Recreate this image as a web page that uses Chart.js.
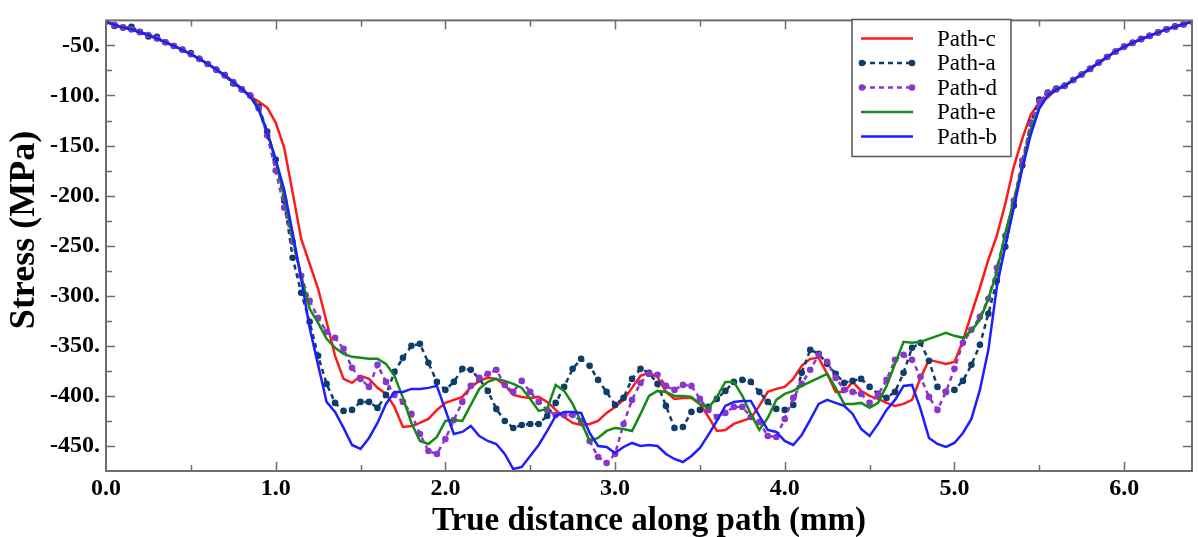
<!DOCTYPE html>
<html>
<head>
<meta charset="utf-8">
<script src="https://cdn.jsdelivr.net/npm/chart.js@4.4.1/dist/chart.umd.min.js"></script>
<style>
  html, body { margin: 0; padding: 0; background: #ffffff; }
  #wrap { width: 1198px; height: 537px; }
</style>
</head>
<body>
<div id="wrap"><canvas id="stressChart" width="1198" height="537"></canvas></div>
<script>
// Distance along the path (mm)
const distance = [
  0, 0.05, 0.1, 0.15, 0.2, 0.25, 0.3, 0.35, 0.4, 0.45,
  0.5, 0.55, 0.6, 0.65, 0.7, 0.75, 0.8, 0.85, 0.9, 0.95,
  1, 1.05, 1.1, 1.15, 1.2, 1.25, 1.3, 1.35, 1.4, 1.45,
  1.5, 1.55, 1.6, 1.65, 1.7, 1.75, 1.8, 1.85, 1.9, 1.95,
  2, 2.05, 2.1, 2.15, 2.2, 2.25, 2.3, 2.35, 2.4, 2.45,
  2.5, 2.55, 2.6, 2.65, 2.7, 2.75, 2.8, 2.85, 2.9, 2.95,
  3, 3.05, 3.1, 3.15, 3.2, 3.25, 3.3, 3.35, 3.4, 3.45,
  3.5, 3.55, 3.6, 3.65, 3.7, 3.75, 3.8, 3.85, 3.9, 3.95,
  4, 4.05, 4.1, 4.15, 4.2, 4.25, 4.3, 4.35, 4.4, 4.45,
  4.5, 4.55, 4.6, 4.65, 4.7, 4.75, 4.8, 4.85, 4.9, 4.95,
  5, 5.05, 5.1, 5.15, 5.2, 5.25, 5.3, 5.35, 5.4, 5.45,
  5.5, 5.55, 5.6, 5.65, 5.7, 5.75, 5.8, 5.85, 5.9, 5.95,
  6, 6.05, 6.1, 6.15, 6.2, 6.25, 6.3, 6.35, 6.4
];

// Stress along each path (MPa)
const pathC = [
  -26, -29.5, -32, -34, -36.8, -39.6, -43.2, -46.8, -50.5, -54.4,
  -58.8, -63.4, -68.6, -74, -80, -86.5, -93.5, -101, -106, -112,
  -127, -152, -197, -243, -268, -293, -326, -360, -383, -387,
  -380, -383, -392, -398, -411, -431, -430, -427, -423, -414,
  -407, -404, -401, -391, -385, -382, -383, -389, -399, -401,
  -402, -401, -406, -414, -421, -427, -429, -428, -425, -417,
  -411, -404, -392, -380, -377, -381, -396, -403, -402, -402,
  -408, -421, -435, -434, -428, -425, -422, -410, -396, -393,
  -391, -383, -370, -363, -362, -378, -396, -396, -386, -395,
  -400, -403, -407, -410, -408, -404, -382, -364, -366, -368,
  -366, -345, -318, -292, -264, -240, -208, -171, -143, -119,
  -107, -102, -94, -90.5, -84.5, -79, -73, -67.4, -61.5, -56,
  -51.4, -47.2, -43.8, -40.5, -37.2, -33.8, -31.3, -28.9, -26
];

const pathA = [
  -26, -30.5, -32.2, -31.5, -36.5, -41, -41.5, -46.8, -50.5, -54,
  -57.5, -63.4, -68.5, -74.4, -79.5, -88, -94, -100, -111, -136,
  -164, -205, -262, -297, -326, -360, -388, -407, -415, -414,
  -406, -406, -412, -399, -376, -362, -350, -348, -367, -386,
  -394, -386, -373, -374, -383, -395, -413, -425, -432, -429,
  -428, -428, -420, -407, -391, -373, -363, -370, -384, -396,
  -409, -402, -383, -373, -377, -388, -410, -432, -431, -416,
  -414, -411, -403, -395, -386, -384, -386, -396, -406, -413,
  -414, -409, -377, -354, -358, -368, -378, -387, -385, -383,
  -391, -398, -402, -396, -377, -352, -347, -365, -391, -396,
  -394, -385, -369, -349, -318, -285, -251, -210, -170, -127,
  -104, -97, -93, -90, -84.5, -79, -73.5, -67, -61.5, -56,
  -51, -47.5, -43.5, -40.5, -37, -34, -31, -29, -26
];

const pathD = [
  -26, -29.5, -32, -34, -36.8, -39.6, -43.2, -46.8, -50.5, -54.4,
  -58.8, -63.4, -68.6, -74, -80, -86.5, -93.5, -100, -113, -140,
  -175, -212, -246, -280, -305, -322, -336, -342, -353, -372,
  -383, -391, -369, -386, -399, -406, -418, -438, -455, -458,
  -443, -424, -406, -390, -382, -378, -374, -389, -396, -385,
  -396, -406, -414, -419, -419, -419, -425, -445, -461, -467,
  -458, -428, -404, -387, -378, -379, -390, -394, -389, -390,
  -403, -414, -421, -417, -411, -411, -421, -426, -440, -441,
  -423, -402, -388, -374, -359, -366, -382, -394, -396, -398,
  -407, -399, -384, -364, -359, -364, -381, -401, -414, -396,
  -373, -347, -334, -321, -303, -272, -240, -205, -165, -128,
  -106, -98, -94, -90.5, -84.5, -79, -73, -67.4, -61.5, -56,
  -51.4, -47.2, -43.8, -40.5, -37.2, -33.8, -31.3, -28.9, -26
];

const pathE = [
  -26, -29.5, -32, -34, -36.8, -39.6, -43.2, -46.8, -50.5, -54.4,
  -58.8, -63.4, -68.6, -74, -80, -86.5, -93.5, -101, -113, -136,
  -165, -200, -243, -280, -313, -327, -343, -352, -358, -361,
  -362, -363, -363, -368, -380, -402, -427, -445, -448, -441,
  -425, -424, -425, -409, -393, -386, -383, -385, -388, -392,
  -403, -415, -413, -389, -395, -408, -426, -445, -442, -435,
  -432, -433, -435, -418, -400, -395, -396, -400, -400, -401,
  -408, -412, -401, -386, -386, -400, -418, -434, -422, -404,
  -398, -395, -390, -386, -382, -378, -392, -408, -408, -407,
  -412, -407, -390, -368, -346, -347, -346, -343, -340, -337,
  -340, -342, -335, -324, -303, -276, -237, -205, -170, -134,
  -112, -100, -94, -90.5, -84.5, -79, -73, -67.4, -61.5, -56,
  -51.4, -47.2, -43.8, -40.5, -37.2, -33.8, -31.3, -28.9, -26
];

const pathB = [
  -26, -29.5, -32, -34, -36.8, -39.6, -43.2, -46.8, -50.5, -54.4,
  -58.8, -63.4, -68.6, -74, -80, -86.5, -93.5, -101, -114, -137,
  -164, -194, -237, -283, -332, -369, -406, -416, -432, -449,
  -453, -442, -427, -408, -396, -396, -393, -393, -392, -390,
  -414, -438, -436, -430, -440, -445, -448, -458, -473, -471,
  -460, -449, -435, -420, -416, -416, -417, -437, -450, -451,
  -457, -451, -447, -450, -449, -450, -458, -463, -466, -460,
  -452, -439, -425, -410, -406, -405, -405, -420, -434, -436,
  -445, -449, -439, -424, -408, -404, -407, -410, -418, -433,
  -440, -428, -414, -404, -390, -389, -413, -442, -448, -451,
  -447, -437, -423, -394, -354, -291, -250, -212, -173, -139,
  -113, -100, -94, -90.5, -84.5, -79, -73, -67.4, -61.5, -56,
  -51.4, -47.2, -43.8, -40.5, -37.2, -33.8, -31.3, -28.9, -26
];

const seriesNames = ['Path-c', 'Path-a', 'Path-d', 'Path-e', 'Path-b'];
const seriesValues = [pathC, pathA, pathD, pathE, pathB];
const seriesColors = ['#ff1a1a', '#0e3d6b', '#8b35cf', '#168a16', '#1e1eff'];
const seriesDotted = [false, true, true, false, false];

const xTitle = 'True distance along path (mm)';
const yTitle = 'Stress (MPa)';

const SERIF = "'Liberation Serif', 'Times New Roman', serif";
const AXIS_COLOR = '#6e6e6e';

function isWhole(v) { return Math.abs(v - Math.round(v)) < 1e-6; }

// Frame around the plot with inward tick marks on all four sides
const framePlugin = {
  id: 'frameTicks',
  afterDatasetsDraw(chart) {
    const { ctx, chartArea: a, scales: { x, y } } = chart;
    ctx.save();
    ctx.strokeStyle = AXIS_COLOR;
    ctx.lineWidth = 1.5;
    ctx.beginPath();
    x.ticks.forEach(t => {
      const px = Math.round(x.getPixelForValue(t.value)) + 0.5;
      if (px <= a.left + 2 || px >= a.right - 2) return;
      const len = isWhole(t.value) ? 9 : 6;
      ctx.moveTo(px, a.bottom); ctx.lineTo(px, a.bottom - len);
      ctx.moveTo(px, a.top); ctx.lineTo(px, a.top + len);
    });
    y.ticks.forEach(t => {
      const py = Math.round(y.getPixelForValue(t.value)) + 0.5;
      if (py <= a.top + 2 || py >= a.bottom - 2) return;
      const len = (t.value % 50 === 0) ? 9 : 6;
      ctx.moveTo(a.left, py); ctx.lineTo(a.left + len, py);
      ctx.moveTo(a.right, py); ctx.lineTo(a.right - len, py);
    });
    ctx.stroke();
    ctx.lineWidth = 2;
    ctx.strokeRect(a.left, a.top, a.right - a.left, a.bottom - a.top);
    ctx.restore();
  }
};

// Vertical axis title, written bottom-to-top beside the value labels
const yTitlePlugin = {
  id: 'yTitle',
  afterDraw(chart) {
    const { ctx } = chart;
    ctx.save();
    ctx.translate(25, 230);
    ctx.rotate(-Math.PI / 2);
    ctx.fillStyle = '#000000';
    ctx.font = 'bold 36px ' + SERIF;
    ctx.textAlign = 'center';
    ctx.textBaseline = 'middle';
    ctx.fillText(yTitle, 0, 0);
    ctx.restore();
  }
};

// Boxed legend inside the upper right of the plot
const legendBoxPlugin = {
  id: 'legendBox',
  afterDraw(chart) {
    const { ctx } = chart;
    const box = { x: 852, y: 19.5, w: 159, h: 137 };
    ctx.save();
    ctx.fillStyle = '#ffffff';
    ctx.fillRect(box.x, box.y, box.w, box.h);
    ctx.strokeStyle = '#555555';
    ctx.lineWidth = 1.5;
    ctx.strokeRect(box.x, box.y, box.w, box.h);
    chart.data.datasets.forEach((ds, i) => {
      const cy = 38.5 + i * 24.5;
      ctx.strokeStyle = ds.borderColor;
      ctx.lineWidth = 2.5;
      ctx.setLineDash(ds.borderDash || []);
      ctx.beginPath();
      ctx.moveTo(861, cy); ctx.lineTo(913, cy);
      ctx.stroke();
      ctx.setLineDash([]);
      if (ds.pointRadius > 0) {
        ctx.fillStyle = ds.borderColor;
        [862, 912].forEach(px => {
          ctx.beginPath(); ctx.arc(px, cy, 3.3, 0, Math.PI * 2); ctx.fill();
        });
      }
      ctx.fillStyle = '#000000';
      ctx.font = '23px ' + SERIF;
      ctx.textBaseline = 'middle';
      ctx.textAlign = 'left';
      ctx.fillText(ds.label, 937, cy + 1);
    });
    ctx.restore();
  }
};

const datasets = seriesNames.map((name, i) => ({
  label: name,
  data: distance.map((d, k) => ({ x: d, y: seriesValues[i][k] })),
  borderColor: seriesColors[i],
  backgroundColor: seriesColors[i],
  borderWidth: 2.5,
  borderDash: seriesDotted[i] ? [5, 4] : [],
  pointRadius: seriesDotted[i] ? 3.3 : 0,
  pointBackgroundColor: seriesColors[i],
  pointBorderWidth: 0,
  tension: 0,
  fill: false,
  order: seriesNames.length - i
}));

new Chart(document.getElementById('stressChart'), {
  type: 'line',
  data: { datasets },
  options: {
    responsive: false,
    animation: false,
    devicePixelRatio: 1,
    layout: { padding: { top: 9, right: 6, left: 0, bottom: 0 } },
    plugins: { legend: { display: false }, tooltip: { enabled: false } },
    scales: {
      x: {
        type: 'linear',
        min: 0,
        max: 6.4,
        afterFit(scale) { scale.height = 66; },
        grid: { display: false, drawTicks: false },
        border: { display: false },
        ticks: {
          stepSize: 0.5,
          includeBounds: false,
          autoSkip: false,
          maxRotation: 0,
          padding: 3,
          color: '#000000',
          font: { family: SERIF, size: 24, weight: 'bold' },
          callback: v => isWhole(v) ? Math.round(v).toFixed(1) : ''
        },
        title: {
          display: true,
          text: xTitle,
          color: '#000000',
          font: { family: SERIF, size: 33, weight: 'bold', lineHeight: 1 },
          padding: { top: 0, bottom: -1 }
        }
      },
      y: {
        type: 'linear',
        min: -475,
        max: -25,
        afterFit(scale) { scale.width = 106; },
        grid: { display: false, drawTicks: false },
        border: { display: false },
        ticks: {
          stepSize: 25,
          includeBounds: false,
          autoSkip: false,
          padding: 6,
          color: '#000000',
          font: { family: SERIF, size: 24, weight: 'bold' },
          callback: v => (v % 50 === 0) ? v + '.' : ''
        },
        title: { display: false }
      }
    }
  },
  plugins: [framePlugin, yTitlePlugin, legendBoxPlugin]
});
</script>
</body>
</html>
